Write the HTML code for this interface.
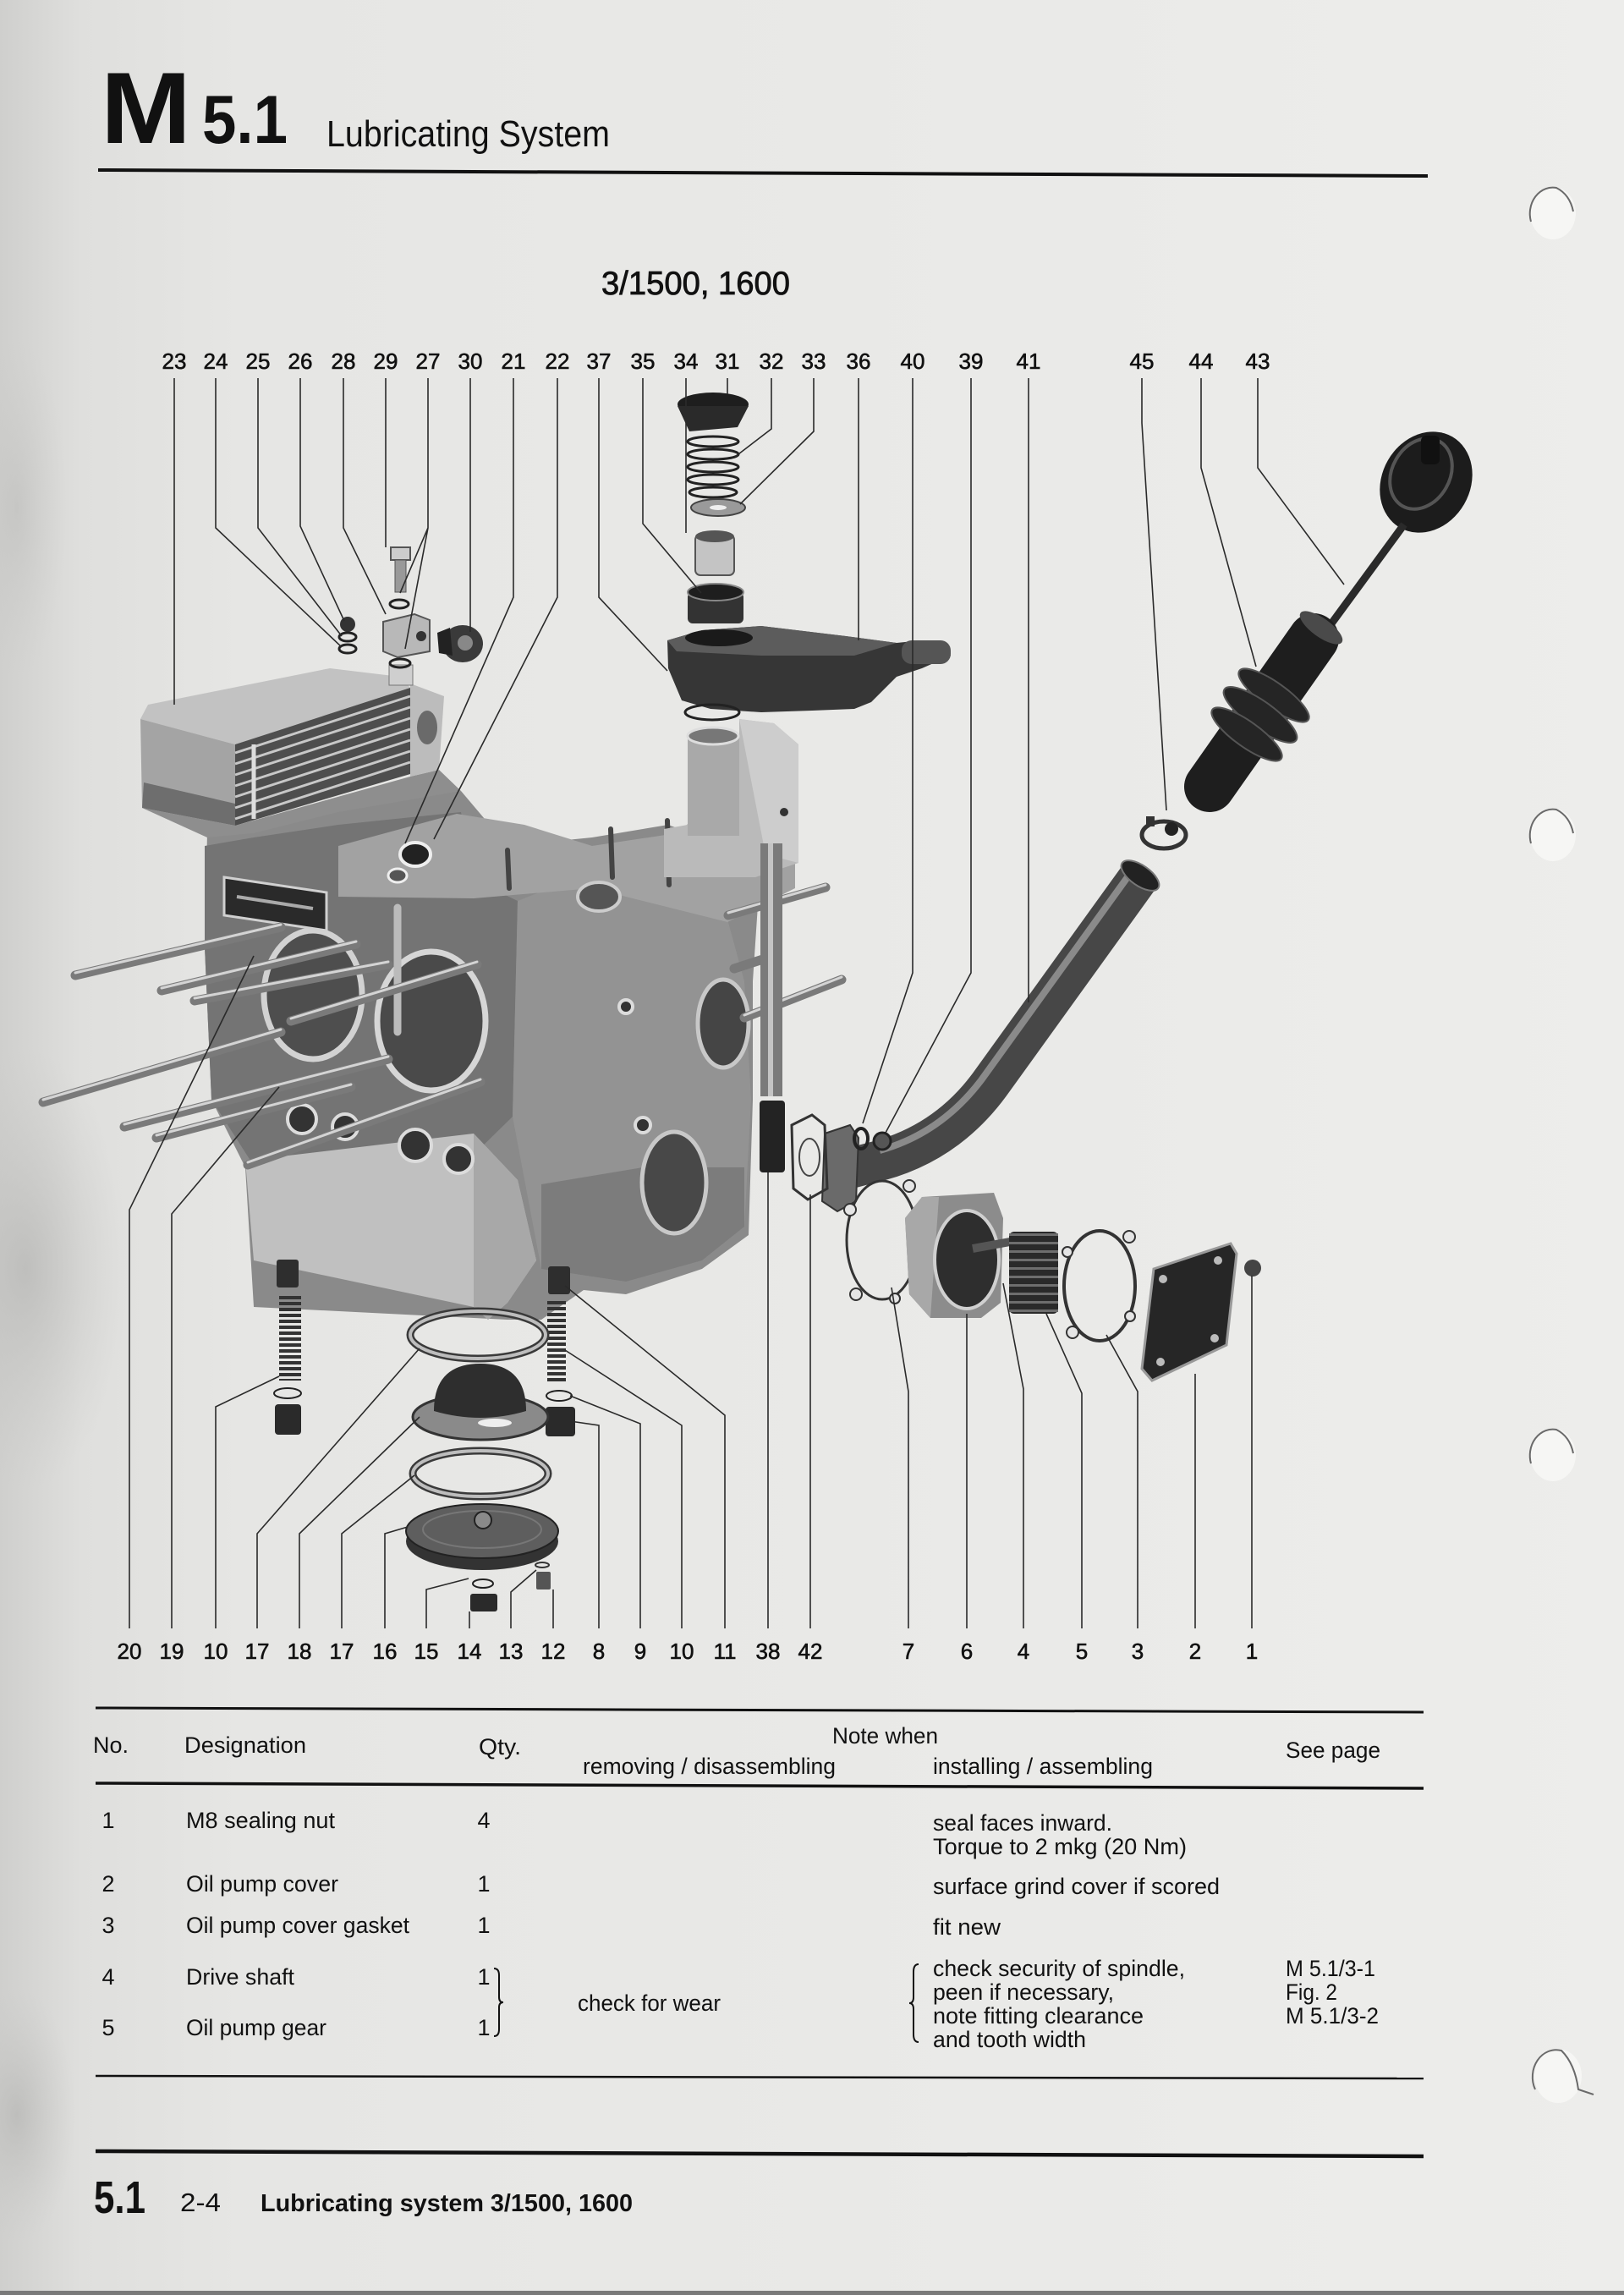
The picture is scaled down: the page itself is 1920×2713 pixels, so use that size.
<!DOCTYPE html>
<html><head><meta charset="utf-8"><style>
html,body{margin:0;padding:0;background:#e7e7e5}
body{width:1920px;height:2713px;overflow:hidden;position:relative}
svg{display:block;position:absolute;left:0;top:0}
text{font-family:"Liberation Sans",Arial,sans-serif;fill:#111}
</style></head><body>
<svg width="1920" height="2713" viewBox="0 0 1920 2713" xmlns="http://www.w3.org/2000/svg">
<defs>
<linearGradient id="bg" x1="0" y1="0" x2="1" y2="0">
<stop offset="0" stop-color="#cfcfcd"/><stop offset="0.05" stop-color="#dfdfdd"/><stop offset="0.15" stop-color="#e6e6e4"/><stop offset="1" stop-color="#ededeb"/>
</linearGradient>
<radialGradient id="blot" cx="0.5" cy="0.5" r="0.5"><stop offset="0" stop-color="#b9b9b7" stop-opacity="0.8"/><stop offset="1" stop-color="#c8c8c6" stop-opacity="0"/></radialGradient>
</defs>
<rect width="1920" height="2713" fill="url(#bg)"/>
<ellipse cx="30" cy="1500" rx="120" ry="260" fill="url(#blot)"/>
<ellipse cx="20" cy="2500" rx="70" ry="150" fill="url(#blot)"/>
<ellipse cx="20" cy="600" rx="60" ry="200" fill="url(#blot)" opacity="0.6"/>
<rect x="0" y="2708" width="1920" height="5" fill="#7a7a7a"/>

<!-- punch holes -->
<g fill="#f6f6f4">
<ellipse cx="1836" cy="252" rx="27" ry="31"/>
<ellipse cx="1836" cy="987" rx="27" ry="31"/>
<ellipse cx="1836" cy="1720" rx="27" ry="31"/>
<ellipse cx="1842" cy="2454" rx="28" ry="32"/>
</g>
<g fill="none" stroke="#6a6a6a" stroke-width="2">
<path d="M1810,262 A27,31 0 0,1 1840,222 Q1856,230 1860,250"/>
<path d="M1810,997 A27,31 0 0,1 1840,957 Q1856,965 1860,985"/>
<path d="M1810,1730 A27,31 0 0,1 1840,1690 Q1856,1698 1860,1718"/>
<path d="M1815,2470 A28,32 0 0,1 1846,2424 Q1862,2440 1866,2470 L1884,2476"/>
</g>

<!-- header -->
<text x="119" y="169" font-size="120" font-weight="bold" textLength="107" lengthAdjust="spacingAndGlyphs">M</text>
<text x="239" y="169" font-size="81" font-weight="bold" textLength="101" lengthAdjust="spacingAndGlyphs">5.1</text>
<text x="386" y="173" font-size="44" textLength="335" lengthAdjust="spacingAndGlyphs">Lubricating System</text>
<line x1="116" y1="201" x2="1688" y2="208" stroke="#111" stroke-width="4"/>
<text x="711" y="348" font-size="39" stroke="#111" stroke-width="0.8" textLength="223" lengthAdjust="spacingAndGlyphs">3/1500, 1600</text>

<!-- top numbers -->
<g font-size="26" text-anchor="middle" stroke="#111" stroke-width="0.6">
<text x="206" y="436">23</text><text x="255" y="436">24</text><text x="305" y="436">25</text><text x="355" y="436">26</text>
<text x="406" y="436">28</text><text x="456" y="436">29</text><text x="506" y="436">27</text><text x="556" y="436">30</text>
<text x="607" y="436">21</text><text x="659" y="436">22</text><text x="708" y="436">37</text><text x="760" y="436">35</text>
<text x="811" y="436">34</text><text x="860" y="436">31</text><text x="912" y="436">32</text><text x="962" y="436">33</text>
<text x="1015" y="436">36</text><text x="1079" y="436">40</text><text x="1148" y="436">39</text><text x="1216" y="436">41</text>
<text x="1350" y="436">45</text><text x="1420" y="436">44</text><text x="1487" y="436">43</text>
</g>
<!-- bottom numbers -->
<g font-size="26" text-anchor="middle" stroke="#111" stroke-width="0.6">
<text x="153" y="1961">20</text><text x="203" y="1961">19</text><text x="255" y="1961">10</text><text x="304" y="1961">17</text>
<text x="354" y="1961">18</text><text x="404" y="1961">17</text><text x="455" y="1961">16</text><text x="504" y="1961">15</text>
<text x="555" y="1961">14</text><text x="604" y="1961">13</text><text x="654" y="1961">12</text><text x="708" y="1961">8</text>
<text x="757" y="1961">9</text><text x="806" y="1961">10</text><text x="857" y="1961">11</text><text x="908" y="1961">38</text>
<text x="958" y="1961">42</text><text x="1074" y="1961">7</text><text x="1143" y="1961">6</text><text x="1210" y="1961">4</text>
<text x="1279" y="1961">5</text><text x="1345" y="1961">3</text><text x="1413" y="1961">2</text><text x="1480" y="1961">1</text>
</g>

<!-- ===== CRANKCASE ===== -->
<polygon points="245,985 300,975 400,955 545,935 600,1000 700,990 790,975 830,990 900,1010 890,1160 890,1300 885,1460 830,1500 740,1530 690,1525 640,1560 600,1560 300,1545 290,1380 250,1300 242,1120" fill="#8a8a8a"/>
<polygon points="242,1000 300,990 400,975 545,960 560,1040 612,1065 606,1320 560,1365 300,1378 250,1300 242,1120" fill="#747474"/>
<polygon points="612,1065 700,1030 800,1000 850,1050 880,1160 888,1300 880,1450 830,1490 740,1515 640,1500 606,1320" fill="#939393"/>
<polygon points="640,1400 760,1380 880,1380 880,1450 830,1490 740,1515 640,1500" fill="#7c7c7c"/>
<polygon points="400,1000 540,962 620,975 700,1000 800,985 830,960 900,985 940,1010 940,1050 860,1090 700,1050 560,1062 400,1060" fill="#a2a2a2"/>
<polygon points="290,1372 560,1340 612,1395 634,1490 600,1540 577,1560 560,1545 300,1490" fill="#c0c0c0"/>
<polygon points="560,1340 612,1395 634,1490 600,1540 577,1560 560,1545" fill="#a8a8a8"/>
<ellipse cx="370" cy="1176" rx="58" ry="76" fill="#4e4e4e" stroke="#d2d2d2" stroke-width="7"/>
<ellipse cx="510" cy="1207" rx="64" ry="82" fill="#4a4a4a" stroke="#d6d6d6" stroke-width="7"/>
<ellipse cx="855" cy="1210" rx="30" ry="52" fill="#454545" stroke="#c8c8c8" stroke-width="5"/>
<ellipse cx="797" cy="1398" rx="38" ry="60" fill="#484848" stroke="#c8c8c8" stroke-width="5"/>
<ellipse cx="708" cy="1060" rx="25" ry="17" fill="#555" stroke="#ccc" stroke-width="4"/>
<g fill="#333" stroke="#dcdcdc" stroke-width="4">
<circle cx="357" cy="1323" r="17"/><circle cx="408" cy="1332" r="15"/><circle cx="491" cy="1354" r="19"/><circle cx="542" cy="1370" r="17"/>
<circle cx="740" cy="1190" r="8"/><circle cx="760" cy="1330" r="9"/>
</g>
<polygon points="265,1037 386,1055 386,1100 265,1082" fill="#2a2a2a" stroke="#d0d0d0" stroke-width="3"/>
<line x1="280" y1="1060" x2="370" y2="1074" stroke="#aaa" stroke-width="4"/>
<ellipse cx="491" cy="1010" rx="18" ry="14" fill="#222" stroke="#eee" stroke-width="4"/>
<ellipse cx="470" cy="1035" rx="11" ry="8" fill="#555" stroke="#eee" stroke-width="3"/>
<line x1="470" y1="1073" x2="470" y2="1220" stroke="#bbb" stroke-width="9" stroke-linecap="round"/>
<g stroke="#444" stroke-width="6" stroke-linecap="round">
<line x1="722" y1="980" x2="724" y2="1037"/><line x1="789" y1="970" x2="791" y2="1046"/><line x1="600" y1="1005" x2="602" y2="1050"/>
</g>

<!-- ===== OIL COOLER ===== -->
<polygon points="168,955 278,976 485,918 519,910 545,935 400,960 300,985 245,990" fill="#8e8e8e"/>
<polygon points="175,833 300,808 390,790 473,800 485,813 278,880 166,850" fill="#c2c2c2"/>
<polygon points="166,850 278,880 278,976 168,955" fill="#a4a4a4"/>
<polygon points="170,925 278,950 278,976 168,955" fill="#6e6e6e"/>
<polygon points="278,880 485,813 485,915 278,976" fill="#4e4e4e"/>
<g stroke="#c8c8c8" stroke-width="3">
<line x1="278" y1="890" x2="485" y2="823"/><line x1="278" y1="903" x2="485" y2="836"/><line x1="278" y1="916" x2="485" y2="849"/>
<line x1="278" y1="929" x2="485" y2="862"/><line x1="278" y1="942" x2="485" y2="875"/><line x1="278" y1="955" x2="485" y2="888"/>
<line x1="278" y1="968" x2="485" y2="901"/>
</g>
<line x1="300" y1="880" x2="300" y2="968" stroke="#ddd" stroke-width="5"/>
<polygon points="485,808 525,823 519,910 485,918" fill="#bcbcbc"/>
<ellipse cx="505" cy="860" rx="12" ry="20" fill="#6a6a6a"/>
<rect x="460" y="786" width="28" height="24" fill="#cfcfcf" stroke="#777" stroke-width="1"/>

<!-- studs -->
<g stroke-linecap="round">
<g stroke="#7a7a7a" stroke-width="11">
<line x1="89" y1="1153" x2="332" y2="1096"/><line x1="191" y1="1171" x2="421" y2="1116"/><line x1="230" y1="1183" x2="459" y2="1140"/>
<line x1="344" y1="1207" x2="564" y2="1140"/><line x1="51" y1="1303" x2="332" y2="1220"/><line x1="147" y1="1332" x2="459" y2="1252"/>
<line x1="185" y1="1345" x2="415" y2="1285"/><line x1="293" y1="1377" x2="568" y2="1279"/>
<line x1="861" y1="1082" x2="976" y2="1049"/><line x1="880" y1="1203" x2="995" y2="1158"/><line x1="868" y1="1145" x2="905" y2="1133"/>
</g>
<g stroke="#d4d4d4" stroke-width="3">
<line x1="89" y1="1150" x2="332" y2="1093"/><line x1="191" y1="1168" x2="421" y2="1113"/><line x1="230" y1="1180" x2="459" y2="1137"/>
<line x1="344" y1="1204" x2="564" y2="1137"/><line x1="51" y1="1300" x2="332" y2="1217"/><line x1="147" y1="1329" x2="459" y2="1249"/>
<line x1="185" y1="1342" x2="415" y2="1282"/><line x1="293" y1="1374" x2="568" y2="1276"/>
<line x1="861" y1="1079" x2="976" y2="1046"/><line x1="880" y1="1200" x2="995" y2="1155"/>
</g>
</g>

<!-- filler stand -->
<polygon points="785,980 813,975 813,868 874,868 874,850 915,855 944,880 944,1020 893,1037 785,1037" fill="#bababa"/>
<rect x="813" y="868" width="61" height="120" fill="#a9a9a9"/>
<ellipse cx="843" cy="870" rx="30" ry="10" fill="#777" stroke="#ddd" stroke-width="3"/>
<polygon points="874,850 915,855 944,880 944,1020 905,1010" fill="#cdcdcd"/>
<circle cx="927" cy="960" r="5" fill="#333"/>
<rect x="899" y="997" width="26" height="299" fill="#7a7a7a"/>
<rect x="908" y="997" width="6" height="299" fill="#c4c4c4"/>
<rect x="898" y="1301" width="30" height="85" rx="4" fill="#232323"/>

<!-- filler housing 36 -->
<polygon points="789,757 830,745 900,740 1000,752 1060,760 1090,757 1120,762 1124,775 1090,790 1060,800 1030,830 1010,838 960,840 900,842 840,838 806,828 790,790" fill="#363636"/>
<polygon points="789,757 830,745 900,740 1000,752 1060,760 1010,775 900,775 800,770" fill="#5c5c5c"/>
<ellipse cx="850" cy="754" rx="40" ry="10" fill="#1a1a1a"/>
<rect x="1066" y="757" width="58" height="28" rx="12" fill="#555"/>
<ellipse cx="842" cy="842" rx="32" ry="9" fill="none" stroke="#222" stroke-width="3"/>

<!-- parts 31-35 -->
<ellipse cx="843" cy="478" rx="42" ry="14" fill="#1e1e1e"/>
<polygon points="801,480 885,480 872,505 815,510" fill="#2a2a2a"/>
<g fill="none" stroke="#222" stroke-width="3">
<ellipse cx="843" cy="522" rx="30" ry="6"/><ellipse cx="843" cy="537" rx="30" ry="6"/><ellipse cx="843" cy="552" rx="30" ry="6"/>
<ellipse cx="843" cy="567" rx="30" ry="6"/><ellipse cx="843" cy="582" rx="28" ry="6"/>
</g>
<ellipse cx="849" cy="600" rx="32" ry="10" fill="#9a9a9a" stroke="#444" stroke-width="2"/>
<ellipse cx="849" cy="600" rx="10" ry="3" fill="#eee"/>
<rect x="822" y="632" width="46" height="48" rx="6" fill="#c4c4c4" stroke="#555" stroke-width="2"/>
<ellipse cx="845" cy="634" rx="23" ry="7" fill="#555"/>
<rect x="813" y="700" width="66" height="37" rx="6" fill="#333"/>
<ellipse cx="846" cy="700" rx="33" ry="10" fill="#1e1e1e" stroke="#888" stroke-width="2"/>

<!-- small parts 24-30 -->
<circle cx="411" cy="738" r="9" fill="#333"/>
<ellipse cx="411" cy="753" rx="10" ry="5" fill="none" stroke="#222" stroke-width="3"/>
<ellipse cx="411" cy="767" rx="10" ry="5" fill="none" stroke="#222" stroke-width="3"/>
<rect x="462" y="647" width="23" height="15" fill="#ccc" stroke="#555" stroke-width="2"/>
<rect x="467" y="662" width="13" height="38" fill="#999" stroke="#555" stroke-width="1"/>
<ellipse cx="472" cy="714" rx="11" ry="5" fill="none" stroke="#222" stroke-width="3"/>
<polygon points="453,735 490,726 508,733 508,770 470,777 453,770" fill="#b8b8b8" stroke="#555" stroke-width="2"/>
<circle cx="498" cy="752" r="6" fill="#333"/>
<ellipse cx="473" cy="784" rx="12" ry="5" fill="none" stroke="#222" stroke-width="3"/>
<ellipse cx="547" cy="761" rx="24" ry="22" fill="#3a3a3a"/>
<polygon points="517,748 532,742 535,775 519,772" fill="#222"/>
<circle cx="550" cy="760" r="9" fill="#888"/>

<!-- ===== DIPSTICK GROUP ===== -->
<ellipse cx="1686" cy="570" rx="52" ry="62" transform="rotate(30 1686 570)" fill="#1c1c1c"/>
<ellipse cx="1680" cy="560" rx="34" ry="44" transform="rotate(30 1680 560)" fill="none" stroke="#555" stroke-width="4"/>
<rect x="1680" y="515" width="22" height="34" rx="6" fill="#111"/>
<line x1="1660" y1="620" x2="1572" y2="740" stroke="#2a2a2a" stroke-width="9"/>
<line x1="1553" y1="755" x2="1430" y2="930" stroke="#1e1e1e" stroke-width="60" stroke-linecap="round"/>
<g fill="#252525" stroke="#555" stroke-width="2">
<ellipse cx="1506" cy="822" rx="50" ry="15" transform="rotate(35.5 1506 822)"/>
<ellipse cx="1490" cy="845" rx="52" ry="16" transform="rotate(35.5 1490 845)"/>
<ellipse cx="1474" cy="868" rx="50" ry="15" transform="rotate(35.5 1474 868)"/>
</g>
<ellipse cx="1562" cy="742" rx="30" ry="11" transform="rotate(35.5 1562 742)" fill="#4a4a4a"/>
<ellipse cx="1376" cy="987" rx="26" ry="16" fill="none" stroke="#333" stroke-width="5"/>
<circle cx="1385" cy="980" r="8" fill="#222"/><rect x="1355" y="965" width="10" height="12" fill="#333"/>
<path d="M1348,1035 L1170,1282 Q1120,1350 1040,1372 L990,1385" fill="none" stroke="#474747" stroke-width="48"/>
<path d="M1338,1030 L1160,1277 Q1112,1340 1040,1360" fill="none" stroke="#8a8a8a" stroke-width="8"/>
<ellipse cx="1348" cy="1035" rx="26" ry="12" transform="rotate(35 1348 1035)" fill="#222" stroke="#777" stroke-width="2"/>
<polygon points="975,1340 1005,1330 1015,1345 1012,1420 990,1432 972,1420" fill="#6a6a6a" stroke="#333" stroke-width="2"/>
<polygon points="936,1330 960,1318 975,1330 978,1405 955,1418 938,1405" fill="none" stroke="#333" stroke-width="3"/>
<ellipse cx="957" cy="1368" rx="12" ry="22" fill="none" stroke="#444" stroke-width="2"/>
<ellipse cx="1018" cy="1346" rx="8" ry="12" fill="none" stroke="#222" stroke-width="4"/>
<circle cx="1043" cy="1349" r="10" fill="#555" stroke="#222" stroke-width="3"/>

<!-- ===== OIL PUMP ===== -->
<ellipse cx="1043" cy="1466" rx="42" ry="70" fill="none" stroke="#333" stroke-width="3"/>
<g fill="#e5e5e5" stroke="#333" stroke-width="2">
<circle cx="1075" cy="1402" r="7"/><circle cx="1005" cy="1430" r="7"/><circle cx="1012" cy="1530" r="7"/><circle cx="1058" cy="1535" r="6"/>
</g>
<polygon points="1070,1440 1090,1415 1175,1410 1186,1440 1183,1540 1160,1558 1100,1558 1075,1530" fill="#8c8c8c"/>
<polygon points="1070,1440 1090,1415 1110,1415 1100,1558 1075,1530" fill="#a8a8a8"/>
<ellipse cx="1143" cy="1489" rx="38" ry="58" fill="#2e2e2e" stroke="#d0d0d0" stroke-width="4"/>
<line x1="1150" y1="1476" x2="1205" y2="1466" stroke="#555" stroke-width="10"/>
<rect x="1193" y="1456" width="58" height="97" rx="6" fill="#2a2a2a"/>
<line x1="1222" y1="1458" x2="1222" y2="1553" stroke="#6e6e6e" stroke-width="58" stroke-dasharray="3 7"/>
<ellipse cx="1300" cy="1520" rx="42" ry="65" fill="none" stroke="#333" stroke-width="4"/>
<g fill="#e5e5e5" stroke="#333" stroke-width="2">
<circle cx="1335" cy="1462" r="7"/><circle cx="1262" cy="1480" r="6"/><circle cx="1268" cy="1575" r="7"/><circle cx="1336" cy="1556" r="6"/>
</g>
<polygon points="1364,1500 1455,1470 1462,1482 1450,1590 1362,1632 1350,1618" fill="#262626" stroke="#999" stroke-width="3"/>
<g fill="#bbb"><circle cx="1375" cy="1512" r="5"/><circle cx="1440" cy="1490" r="5"/><circle cx="1372" cy="1610" r="5"/><circle cx="1436" cy="1582" r="5"/></g>
<circle cx="1481" cy="1499" r="10" fill="#444"/>

<!-- ===== BOTTOM PARTS ===== -->
<rect x="327" y="1489" width="26" height="33" rx="3" fill="#2e2e2e"/>
<line x1="343" y1="1532" x2="343" y2="1632" stroke="#333" stroke-width="26" stroke-dasharray="4 3"/>
<ellipse cx="340" cy="1647" rx="16" ry="6" fill="none" stroke="#222" stroke-width="2"/>
<rect x="325" y="1660" width="31" height="36" rx="4" fill="#2a2a2a"/>
<rect x="648" y="1497" width="26" height="33" rx="3" fill="#2e2e2e"/>
<line x1="658" y1="1538" x2="658" y2="1635" stroke="#333" stroke-width="22" stroke-dasharray="4 3"/>
<ellipse cx="661" cy="1650" rx="15" ry="6" fill="none" stroke="#222" stroke-width="2"/>
<rect x="645" y="1663" width="35" height="35" rx="4" fill="#2a2a2a"/>
<ellipse cx="565" cy="1578" rx="80" ry="28" fill="none" stroke="#3a3a3a" stroke-width="9"/>
<ellipse cx="565" cy="1578" rx="80" ry="28" fill="none" stroke="#bdbdbd" stroke-width="4"/>
<ellipse cx="568" cy="1675" rx="80" ry="27" fill="#8a8a8a" stroke="#333" stroke-width="3"/>
<path d="M513,1668 Q513,1612 568,1612 Q622,1612 622,1668 Q568,1684 513,1668 Z" fill="#2e2e2e"/>
<ellipse cx="585" cy="1682" rx="20" ry="5" fill="#eee"/>
<ellipse cx="568" cy="1742" rx="80" ry="27" fill="none" stroke="#3a3a3a" stroke-width="9"/>
<ellipse cx="568" cy="1742" rx="80" ry="27" fill="none" stroke="#bdbdbd" stroke-width="4"/>
<ellipse cx="570" cy="1822" rx="90" ry="34" fill="#333"/>
<ellipse cx="570" cy="1810" rx="90" ry="32" fill="#5e5e5e" stroke="#222" stroke-width="2"/>
<ellipse cx="570" cy="1808" rx="70" ry="22" fill="none" stroke="#777" stroke-width="2"/>
<circle cx="571" cy="1797" r="10" fill="#8a8a8a" stroke="#222" stroke-width="2"/>
<ellipse cx="571" cy="1872" rx="12" ry="5" fill="none" stroke="#222" stroke-width="2"/>
<rect x="556" y="1884" width="32" height="21" rx="3" fill="#2a2a2a"/>
<rect x="634" y="1858" width="17" height="21" rx="2" fill="#555"/>
<ellipse cx="641" cy="1850" rx="8" ry="3" fill="none" stroke="#333" stroke-width="2"/>

<!-- ===== LEADER LINES ===== -->
<g fill="none" stroke="#2a2a2a" stroke-width="1.6">
<path d="M206,447V833"/><path d="M255,447V624L404,765"/><path d="M305,447V624L404,752"/><path d="M355,447V622L407,734"/>
<path d="M406,447V624L456,726"/><path d="M456,447V647"/><path d="M506,447V624L473,701M506,624L479,767"/><path d="M556,447V747"/>
<path d="M607,447V706L479,997"/><path d="M659,447V706L513,992"/><path d="M708,447V706L789,793"/><path d="M760,447V619L829,701"/>
<path d="M811,447V630"/><path d="M860,447V466"/><path d="M912,447V507L869,540"/><path d="M962,447V510L875,596"/>
<path d="M1015,447V757"/><path d="M1079,447V1150L1020,1328"/><path d="M1148,447V1150L1047,1339"/><path d="M1216,447V1185"/>
<path d="M1350,447V500L1379,958"/><path d="M1420,447V553L1485,788"/><path d="M1487,447V553L1589,691"/>

<path d="M153,1925V1430L300,1130"/><path d="M203,1925V1435L330,1285"/><path d="M255,1925V1663L330,1627"/>
<path d="M304,1925V1813L496,1594"/><path d="M354,1925V1813L496,1675"/><path d="M404,1925V1813L490,1744"/>
<path d="M455,1925V1813L482,1805"/><path d="M504,1925V1879L554,1866"/><path d="M555,1925V1905"/>
<path d="M604,1925V1882L634,1856"/><path d="M654,1925V1879"/><path d="M708,1925V1685L674,1680"/>
<path d="M757,1925V1683L674,1650"/><path d="M806,1925V1685L668,1596"/><path d="M857,1925V1673L668,1520"/>
<path d="M908,1925V1386"/><path d="M958,1925V1412"/><path d="M1074,1925V1645L1054,1522"/><path d="M1143,1925V1553"/>
<path d="M1210,1925V1642L1186,1517"/><path d="M1279,1925V1647L1237,1553"/><path d="M1345,1925V1645L1308,1578"/>
<path d="M1413,1925V1624"/><path d="M1480,1925V1508"/>
</g>

<!-- ===== TABLE ===== -->
<line x1="113" y1="2019" x2="1683" y2="2024" stroke="#111" stroke-width="3"/>
<line x1="113" y1="2108" x2="1683" y2="2114" stroke="#111" stroke-width="3.5"/>
<line x1="113" y1="2454" x2="1683" y2="2457" stroke="#111" stroke-width="2.5"/>
<line x1="113" y1="2543" x2="1683" y2="2549" stroke="#111" stroke-width="4.5"/>

<g font-size="27">
<text x="110" y="2072" textLength="42" lengthAdjust="spacingAndGlyphs">No.</text>
<text x="218" y="2072" textLength="144" lengthAdjust="spacingAndGlyphs">Designation</text>
<text x="566" y="2074" textLength="50" lengthAdjust="spacingAndGlyphs">Qty.</text>
<text x="984" y="2061" textLength="125" lengthAdjust="spacingAndGlyphs">Note when</text>
<text x="689" y="2097" textLength="299" lengthAdjust="spacingAndGlyphs">removing / disassembling</text>
<text x="1103" y="2097" textLength="260" lengthAdjust="spacingAndGlyphs">installing / assembling</text>
<text x="1520" y="2078" textLength="112" lengthAdjust="spacingAndGlyphs">See page</text>

<g text-anchor="middle">
<text x="128" y="2161">1</text><text x="128" y="2236">2</text><text x="128" y="2285">3</text><text x="128" y="2346">4</text><text x="128" y="2406">5</text>
<text x="572" y="2161">4</text><text x="572" y="2236">1</text><text x="572" y="2285">1</text><text x="572" y="2346">1</text><text x="572" y="2406">1</text>
</g>
<text x="220" y="2161" textLength="176" lengthAdjust="spacingAndGlyphs">M8 sealing nut</text>
<text x="220" y="2236" textLength="180" lengthAdjust="spacingAndGlyphs">Oil pump cover</text>
<text x="220" y="2285" textLength="264" lengthAdjust="spacingAndGlyphs">Oil pump cover gasket</text>
<text x="220" y="2346" textLength="128" lengthAdjust="spacingAndGlyphs">Drive shaft</text>
<text x="220" y="2406" textLength="166" lengthAdjust="spacingAndGlyphs">Oil pump gear</text>

<text x="1103" y="2164" textLength="212" lengthAdjust="spacingAndGlyphs">seal faces inward.</text>
<text x="1103" y="2192" textLength="300" lengthAdjust="spacingAndGlyphs">Torque to 2 mkg (20 Nm)</text>
<text x="1103" y="2239" textLength="339" lengthAdjust="spacingAndGlyphs">surface grind cover if scored</text>
<text x="1103" y="2287" textLength="80" lengthAdjust="spacingAndGlyphs">fit new</text>
<text x="1103" y="2336" textLength="298" lengthAdjust="spacingAndGlyphs">check security of spindle,</text>
<text x="1103" y="2364" textLength="214" lengthAdjust="spacingAndGlyphs">peen if necessary,</text>
<text x="1103" y="2392" textLength="249" lengthAdjust="spacingAndGlyphs">note fitting clearance</text>
<text x="1103" y="2420" textLength="181" lengthAdjust="spacingAndGlyphs">and tooth width</text>
<text x="683" y="2377" textLength="169" lengthAdjust="spacingAndGlyphs">check for wear</text>
<text x="1520" y="2336" textLength="106" lengthAdjust="spacingAndGlyphs">M 5.1/3-1</text>
<text x="1520" y="2364" textLength="61" lengthAdjust="spacingAndGlyphs">Fig. 2</text>
<text x="1520" y="2392" textLength="110" lengthAdjust="spacingAndGlyphs">M 5.1/3-2</text>
</g>
<path d="M584,2327 q6,0 6,8 v26 q0,6 5,6 q-5,0 -5,6 v26 q0,8 -6,8" fill="none" stroke="#111" stroke-width="2"/>
<path d="M1086,2322 q-6,0 -6,9 v30 q0,7 -5,7 q5,0 5,7 v30 q0,9 6,9" fill="none" stroke="#111" stroke-width="2"/>

<!-- footer -->
<text x="111" y="2616" font-size="54" font-weight="bold" textLength="61" lengthAdjust="spacingAndGlyphs">5.1</text>
<text x="213" y="2614" font-size="31" textLength="48" lengthAdjust="spacingAndGlyphs">2-4</text>
<text x="308" y="2614" font-size="29" font-weight="bold" textLength="440" lengthAdjust="spacingAndGlyphs">Lubricating system 3/1500, 1600</text>
</svg>
</body></html>
